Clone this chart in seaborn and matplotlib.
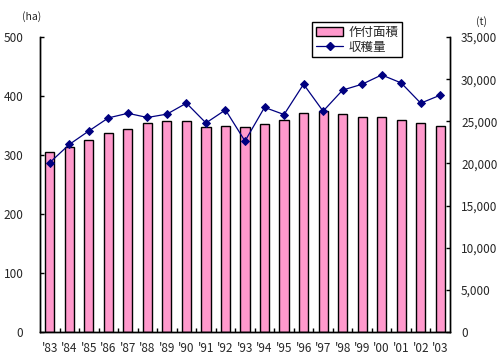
import matplotlib
matplotlib.use('Agg')
import matplotlib.pyplot as plt
import seaborn as sns
import numpy as np
from matplotlib.lines import Line2D
from matplotlib.patches import Patch
from matplotlib.ticker import FuncFormatter

# データ
years = ["'83", "'84", "'85", "'86", "'87", "'88", "'89", "'90", "'91", "'92", "'93",
         "'94", "'95", "'96", "'97", "'98", "'99", "'00", "'01", "'02", "'03"]
area = [305, 314, 325, 337, 344, 355, 358, 358, 347, 349, 347,
        352, 359, 371, 375, 369, 365, 364, 360, 354, 349]
harvest = [20100, 22250, 23850, 25400, 25950, 25450, 25850, 27150, 24800, 26350, 22650,
           26650, 25800, 29400, 26200, 28700, 29400, 30500, 29550, 27150, 28100]
area_label = '作付面積'
harvest_label = '収穫量'

sns.set_style('white')
plt.rcParams['font.family'] = ['Noto Sans CJK JP', 'DejaVu Sans']

fig = plt.figure(figsize=(5.04, 3.64), dpi=100)
ax = fig.add_axes([40 / 504, 32 / 364, 410 / 504, 295 / 364])

sns.barplot(x=years, y=area, ax=ax, color='#FF99CC', edgecolor='black',
            linewidth=1, width=0.47, saturation=1)
ax.set_ylim(0, 500)
ax.set_yticks(range(0, 501, 100))
ax.set_xlim(-0.5, len(years) - 0.5)

ax2 = ax.twinx()
sns.pointplot(x=years, y=harvest, ax=ax2, color='#000080', markers='D',
              markersize=4, linewidth=0.9)
ax2.set_ylim(0, 35000)
ax2.set_yticks(range(0, 35001, 5000))
ax2.yaxis.set_major_formatter(FuncFormatter(lambda v, p: f'{int(v):,}'))
ax2.set_xlim(-0.5, len(years) - 0.5)

for a in (ax, ax2):
    for s in a.spines.values():
        s.set_color('black')
        s.set_linewidth(1)
    a.spines['top'].set_visible(False)
    a.set_xlabel('')
    a.set_ylabel('')

ax.tick_params(axis='y', left=True, direction='in', length=3, width=1,
               labelsize=8.5, pad=12, color='black')
ax2.tick_params(axis='y', right=True, direction='in', length=3, width=1,
                labelsize=8.5, pad=8, color='black')
ax.tick_params(axis='x', bottom=True, length=0, labelsize=8.5, pad=7)
ax.set_xticks(np.arange(0.5, len(years) - 1, 1), minor=True)
ax.tick_params(axis='x', which='minor', bottom=True, direction='in', length=3,
               width=1, color='black')

fig.text(22 / 504, 1 - 17 / 364, '(ha)', fontsize=7.5, ha='left', va='center')
fig.text(476 / 504, 1 - 22 / 364, '(t)', fontsize=7.5, ha='left', va='center')

handles = [Patch(facecolor='#FF99CC', edgecolor='black', linewidth=1),
           Line2D([0], [0], color='#000080', marker='D', markersize=4, linewidth=0.9)]
leg = fig.legend(handles, [area_label, harvest_label], loc='upper left',
                 bbox_to_anchor=(312 / 504, 1 - 22 / 364), fontsize=9,
                 frameon=True, fancybox=False, edgecolor='black', framealpha=1,
                 borderpad=0.3, handlelength=2.2, handletextpad=0.4, labelspacing=0.15,
                 borderaxespad=0)
leg.get_frame().set_linewidth(1)

fig.savefig('out.png', dpi=100)
